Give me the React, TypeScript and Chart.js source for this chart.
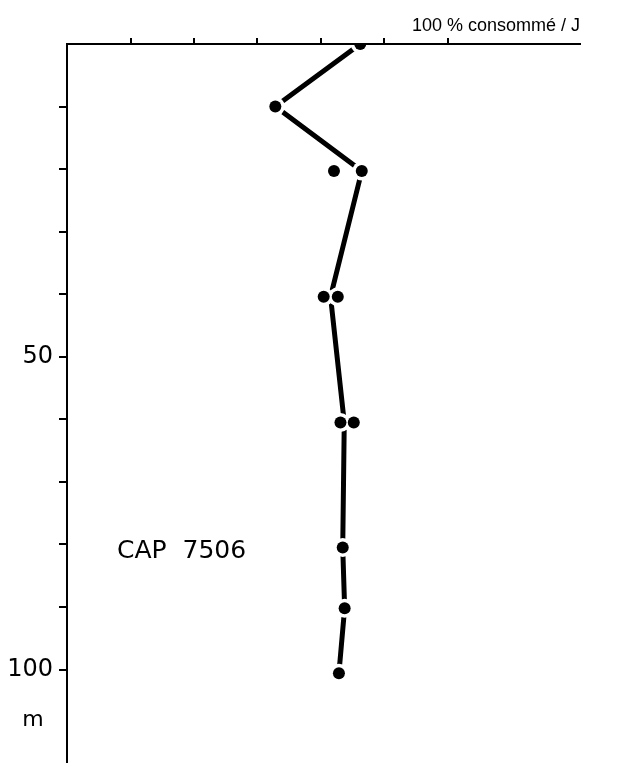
import React, { useEffect, useRef } from "react";
import { Chart, registerables } from "chart.js";

Chart.register(...registerables);

// Profile line (percentage consumed per day vs depth in m)
const lineConsumed = [77.0, 54.7, 77.4, 69.2, 72.8, 72.4, 72.9, 71.4];
const lineDepth = [0, 10, 20.3, 40.4, 60.5, 80.5, 90.2, 100.6];

// Individual measurements
const dotConsumed = [77.0, 54.7, 70.1, 77.4, 67.4, 71.1, 71.8, 75.3, 72.4, 72.9, 71.4];
const dotDepth = [0, 10, 20.3, 20.3, 40.4, 40.4, 60.5, 60.5, 80.5, 90.2, 100.6];

// Axis ticks
const xTickValues = [16.7, 33.3, 50, 66.7, 83.3, 100];
const yTickValues = [10, 20, 30, 40, 50, 60, 70, 80, 90, 100];
const yLabelled = [50, 100];

const xTitle = "100 % consommé / J";
const stationLabel = "CAP  7506";
const depthUnit = "m";

const FONT = '"DejaVu Sans", "Liberation Sans", sans-serif';
const FONT2 = '"Liberation Sans", "DejaVu Sans", sans-serif';

export default function App() {
  const ref = useRef<HTMLCanvasElement | null>(null);

  useEffect(() => {
    if (!ref.current) return;
    const textPlugin = {
      id: "texts",
      afterDatasetsDraw(chart: any) {
        const { ctx, chartArea } = chart;
        ctx.save();
        // redraw top axis line over halos
        ctx.strokeStyle = "#000";
        ctx.lineWidth = 2;
        ctx.beginPath();
        ctx.moveTo(chartArea.left - 1, chartArea.top);
        ctx.lineTo(chartArea.right, chartArea.top);
        ctx.stroke();
        ctx.fillStyle = "#000";
        ctx.font = `18px ${FONT2}`;
        ctx.textAlign = "right";
        ctx.textBaseline = "alphabetic";
        ctx.fillText(xTitle, chartArea.right, 31);
        ctx.font = `25px ${FONT}`;
        ctx.textAlign = "left";
        ctx.textBaseline = "middle";
        ctx.fillText(stationLabel, 117, 551);
        ctx.font = `22px ${FONT}`;
        ctx.textAlign = "center";
        ctx.fillText(depthUnit, 33, 720);
        ctx.restore();
      },
    };

    const chart = new Chart(ref.current, {
      type: "scatter",
      data: {
        datasets: [
          {
            type: "line",
            data: lineConsumed.map((x, i) => ({ x, y: lineDepth[i] })),
            borderColor: "#000",
            borderWidth: 5,
            pointRadius: 0,
            tension: 0,
            fill: false,
            order: 3,
          } as any,
          {
            data: dotConsumed.map((x, i) => ({ x, y: dotDepth[i] })),
            backgroundColor: "#fff",
            borderWidth: 0,
            pointRadius: 9.5,
            order: 2,
          },
          {
            data: dotConsumed.map((x, i) => ({ x, y: dotDepth[i] })),
            backgroundColor: "#000",
            borderColor: "#000",
            borderWidth: 0,
            pointRadius: 6,
            order: 1,
          },
        ],
      },
      options: {
        animation: false,
        responsive: false,
        maintainAspectRatio: false,
        devicePixelRatio: 1,
        events: [],
        layout: { padding: { left: 0, top: 0, right: 61, bottom: 1 } },
        plugins: { legend: { display: false }, tooltip: { enabled: false } },
        scales: {
          x: {
            type: "linear",
            position: "top",
            min: 0,
            max: 134.7,
            afterBuildTicks: (s: any) => {
              s.ticks = xTickValues.map((v) => ({ value: v }));
            },
            afterFit: (s: any) => {
              s.height = 44;
              s.paddingLeft = 0;
              s.paddingRight = 0;
            },
            ticks: { callback: () => "", font: { size: 1 } },
            grid: {
              drawOnChartArea: false,
              drawTicks: true,
              tickLength: 6,
              color: "#000",
              lineWidth: 2,
            },
            border: { display: true, color: "#000", width: 2 },
          },
          y: {
            type: "linear",
            reverse: true,
            min: 0,
            max: 114.7,
            afterBuildTicks: (s: any) => {
              s.ticks = yTickValues.map((v) => ({ value: v }));
            },
            afterFit: (s: any) => {
              s.width = 67;
              s.paddingTop = 0;
              s.paddingBottom = 0;
            },
            ticks: {
              color: "#000",
              font: { family: FONT, size: 24 },
              padding: 6,
              callback: (v: any) => (yLabelled.includes(Number(v)) ? String(v) : ""),
            },
            grid: {
              drawOnChartArea: false,
              drawTicks: true,
              tickLength: 8,
              color: "#000",
              lineWidth: 2,
            },
            border: { display: true, color: "#000", width: 2 },
          },
        },
      },
      plugins: [textPlugin],
    });
    return () => chart.destroy();
  }, []);

  return (
    <div style={{ position: "fixed", left: 0, top: 0, width: 641, height: 771, background: "#fff" }}>
      <canvas ref={ref} width={641} height={771} style={{ display: "block", width: 641, height: 771 }} />
    </div>
  );
}
